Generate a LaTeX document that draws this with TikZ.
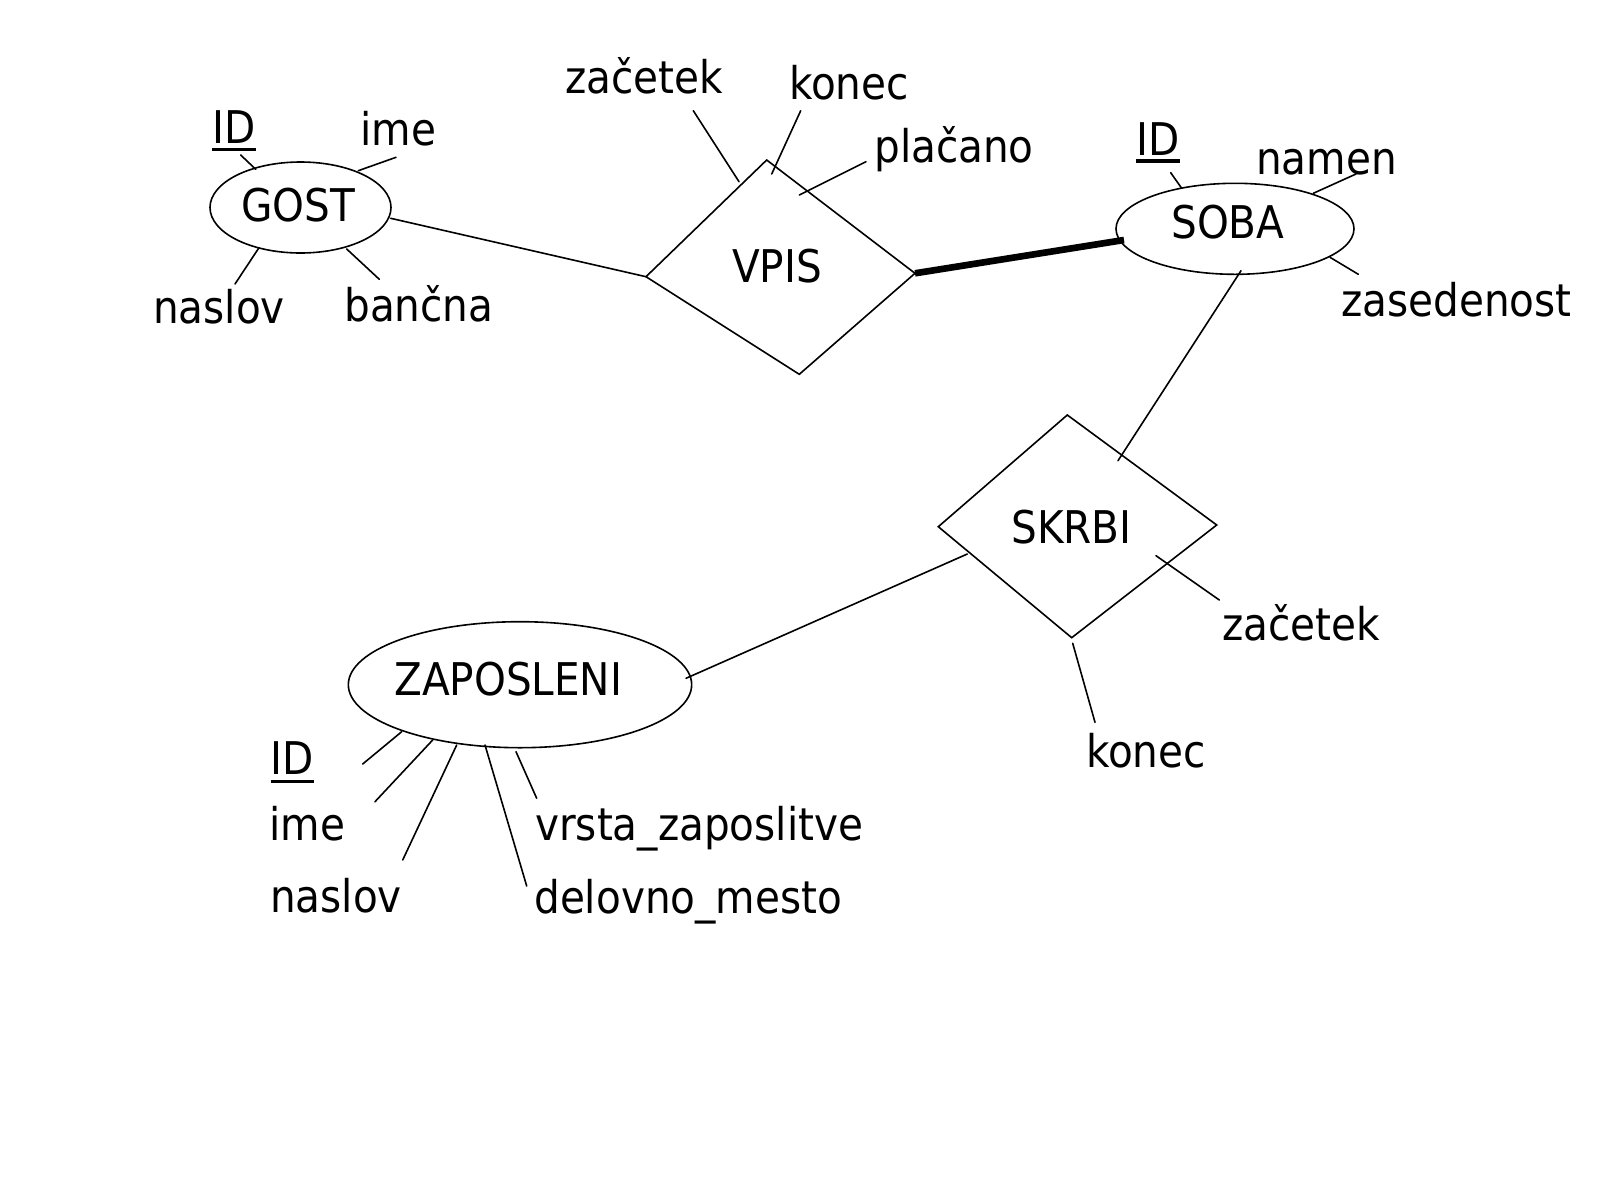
\documentclass[tikz,border=0pt]{standalone}
\usepackage{fontspec}
\setmainfont{DejaVu Sans Condensed}
\usetikzlibrary{shapes.geometric}
\begin{document}
\begin{tikzpicture}[x=0.75pt,y=-0.75pt,
  lbl/.style={inner sep=0pt, anchor=base west, font=\fontsize{33.8}{40}\selectfont},
  ent/.style={draw, ellipse, inner sep=0pt, line width=1.2pt},
  ln/.style={line width=1.2pt, line cap=round},
  heavy/.style={line width=5pt},
  ul/.style={line width=2.4pt}]
\fill[white] (0,0) rectangle (1600,1200);
\useasboundingbox (0,0) rectangle (1600,1200);

% entities
\node[ent, minimum width=135.75pt, minimum height=68.25pt] (gost) at (300.5,207.5) {};
\node[ent, minimum width=178.5pt, minimum height=68.25pt] (soba) at (1235,228.8) {};
\node[ent, minimum width=257.5pt, minimum height=94.5pt] (zap) at (520,684.7) {};

% relationship diamonds
\coordinate (vT) at (766.7,160);
\coordinate (vR) at (915,273.3);
\coordinate (vB) at (799.3,374.3);
\coordinate (vL) at (646,276.7);
\draw[ln, line join=miter] (vT) -- (vR) -- (vB) -- (vL) -- cycle;
\coordinate (sT) at (1067.3,415);
\coordinate (sR) at (1216.7,525);
\coordinate (sB) at (1071.7,637.7);
\coordinate (sL) at (938.3,526.7);
\draw[ln, line join=miter] (sT) -- (sR) -- (sB) -- (sL) -- cycle;

% labels
\node[lbl] (tgost) at (241,221.7) {GOST};
\node[lbl] (gid) at (212,143.3) {ID};
\node[lbl] (gime) at (360,145) {ime};
\node[lbl] (gnaslov) at (153,323.3) {naslov};
\node[lbl] (gbancna) at (344,321.7) {ban\v{c}na};
\node[lbl] (vzac) at (565,93.3) {za\v{c}etek};
\node[lbl] (vkon) at (789,99.3) {konec};
\node[lbl] (vpla) at (874,162.7) {pla\v{c}ano};
\node[lbl] (tvpis) at (732,282.7) {VPIS};
\node[lbl] (sid) at (1136,155) {ID};
\node[lbl] (snamen) at (1256,174) {namen};
\node[lbl] (tsoba) at (1171,238.3) {SOBA};
\node[lbl] (szas) at (1341,316.7) {zasedenost};
\node[lbl] (tskrbi) at (1011,543.3) {SKRBI};
\node[lbl] (kzac) at (1222,640) {za\v{c}etek};
\node[lbl] (kkon) at (1086,767) {konec};
\node[lbl] (tzap) at (394,695) {ZAPOSLENI};
\node[lbl] (zid) at (270.7,774) {ID};
\node[lbl] (zime) at (269,840.7) {ime};
\node[lbl] (znaslov) at (270,912.7) {naslov};
\node[lbl] (zvrsta) at (535,840.7) {vrsta\_zaposlitve};
\node[lbl] (zdel) at (534,913.3) {delovno\_mesto};

% underlines of keys
\draw[ul] ([yshift=-4.5pt]gid.base west) -- ([yshift=-4.5pt]gid.base east);
\draw[ul] ([yshift=-4.5pt]sid.base west) -- ([yshift=-4.5pt]sid.base east);
\draw[ul] ([yshift=-5.5pt]zid.base west) -- ([yshift=-5.5pt]zid.base east);

% connector end points
\coordinate (gE) at (390.7,218.3);
\coordinate (sW) at (1124,240);
\coordinate (sS) at (1241,270.7);
\coordinate (kN) at (1118,460.7);
\coordinate (kW) at (967.3,554);
\coordinate (zE) at (686,678.3);

% relationships
\draw[ln] (gE) -- (vL);
\draw[heavy] (vR) -- (sW);
\draw[ln] (sS) -- (kN);
\draw[ln] (kW) -- (zE);

% attribute ticks
\coordinate (a1) at (240.7,155);   \coordinate (b1) at (255.7,169.3);
\coordinate (a2) at (358.3,170.7); \coordinate (b2) at (396,157.3);
\coordinate (a3) at (259,247.7);   \coordinate (b3) at (235,284);
\coordinate (a4) at (346.7,249);   \coordinate (b4) at (379.3,279.3);
\coordinate (a5) at (693.3,110.7); \coordinate (b5) at (739,181.7);
\coordinate (a6) at (800.7,110.7); \coordinate (b6) at (771.7,174);
\coordinate (a7) at (866,161.7);   \coordinate (b7) at (799.3,195);
\coordinate (a8) at (1170.7,172.7); \coordinate (b8) at (1181.7,188.3);
\coordinate (a9) at (1313.3,193.3); \coordinate (b9) at (1356,174);
\coordinate (a10) at (1330,257.3); \coordinate (b10) at (1358.3,274.3);
\coordinate (a11) at (1156,555.7); \coordinate (b11) at (1219.3,600);
\coordinate (a12) at (1072.7,643.3); \coordinate (b12) at (1095,722.3);
\coordinate (a13) at (362.7,764); \coordinate (b13) at (401.7,731.7);
\coordinate (a14) at (375,801.7); \coordinate (b14) at (432.7,740);
\coordinate (a15) at (402.7,860); \coordinate (b15) at (456.7,745);
\coordinate (a16) at (516,751.7); \coordinate (b16) at (536.7,798.3);
\coordinate (a17) at (485,745); \coordinate (b17) at (526.7,886);
\foreach \i in {1,...,17} {\draw[ln] (a\i) -- (b\i);}
\end{tikzpicture}
\end{document}
